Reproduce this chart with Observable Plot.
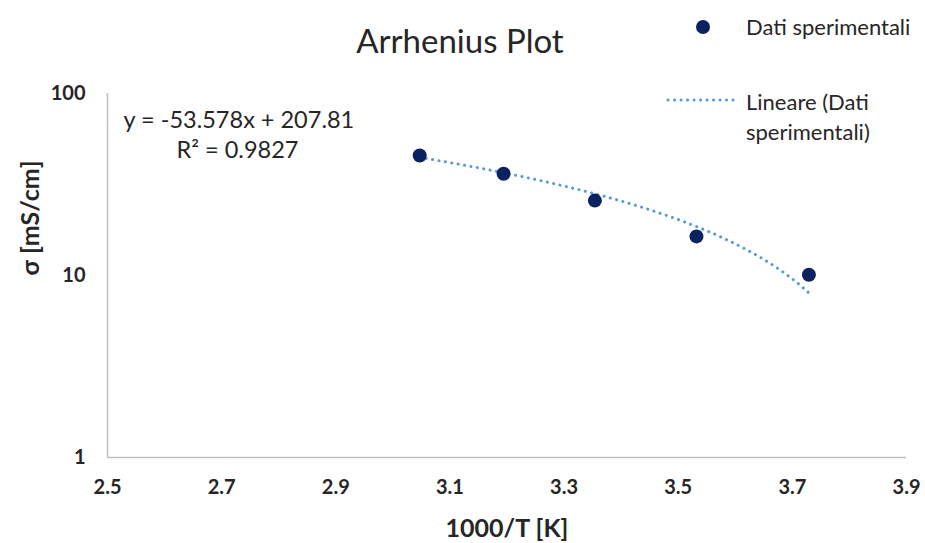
<!DOCTYPE html>
<html>
<head>
<meta charset="utf-8">
<script src="https://cdn.jsdelivr.net/npm/d3@7"></script>
<script src="https://cdn.jsdelivr.net/npm/@observablehq/plot@0.6"></script>
<style>
  html, body { margin: 0; padding: 0; background: #fff; }
  #wrap { position: relative; width: 925px; height: 543px; font-family: Lato, "Open Sans", sans-serif; color: #262626; }
  #chart { position: absolute; left: 0; top: 0; }
  .abs { position: absolute; white-space: nowrap; }
</style>
</head>
<body>
<div id="wrap">
  <div id="chart"></div>
  <div class="abs" id="title" style="left:0; width:920px; top:20px; line-height:40px; text-align:center; font-size:33px; color:#262626;">Arrhenius Plot</div>
  <div class="abs" style="left:695px; top:19px;"><svg width="18" height="18"><circle cx="8" cy="8" r="7" fill="#0b2160"/></svg></div>
  <div class="abs" style="left:746px; top:12px; font-size:22px; line-height:30px;">Dati sperimentali</div>
  <div class="abs" style="left:666px; top:92px;"><svg width="70" height="16"><line x1="2" y1="8" x2="68" y2="8" stroke="#5b9bd5" stroke-width="3" stroke-linecap="round" stroke-dasharray="0.1 6.4"/></svg></div>
  <div class="abs" style="left:746px; top:87px; font-size:22px; line-height:30px;">Lineare (Dati<br>sperimentali)</div>
</div>
<script>
// Experimental data
const invT = [3.047, 3.194, 3.354, 3.532, 3.729];   // 1000/T [K]
const sigma = [45.6, 36.2, 25.8, 16.4, 10.1];       // σ [mS/cm]

// Trendline (Excel "Lineare") coefficients as shown in the chart
const slope = -53.578;
const intercept = 207.81;
const r2 = 0.9827;

const xTicks = [2.5, 2.7, 2.9, 3.1, 3.3, 3.5, 3.7, 3.9];
const yTicks = [1, 10, 100];

const points = invT.map((x, i) => ({x, y: sigma[i]}));
const x0 = d3.min(invT), x1 = d3.max(invT);
const trend = d3.range(0, 101).map(k => {
  const x = x0 + (x1 - x0) * k / 100;
  return {x, y: slope * x + intercept};
});

const chart = Plot.plot({
  width: 925,
  height: 543,
  marginLeft: 107,
  marginRight: 19,
  marginTop: 93,
  marginBottom: 86,
  style: {fontFamily: "Lato, 'Open Sans', sans-serif", fontSize: "20px", color: "#262626", background: "transparent"},
  x: {domain: [2.5, 3.9], ticks: xTicks, tickFormat: d3.format(".1f"), label: null},
  y: {type: "log", domain: [1, 100], ticks: yTicks, tickFormat: d => String(d), label: null},
  marks: [
    Plot.ruleY([1], {stroke: "#bfbfbf", strokeWidth: 1.5}),
    Plot.ruleX([2.5], {stroke: "#bfbfbf", strokeWidth: 1.5}),
    Plot.axisX({ticks: xTicks, tickSize: 0, tickPadding: 22, fontWeight: "bold", fontSize: 20, tickFormat: d3.format(".1f"), label: null}),
    Plot.axisY({ticks: yTicks, tickSize: 0, tickPadding: 22, fontWeight: "bold", fontSize: 20, tickFormat: d => String(d), label: null}),
    Plot.line(trend, {x: "x", y: "y", stroke: "#5b9bd5", strokeWidth: 3, strokeLinecap: "round", strokeDasharray: "0.1 6.4"}),
    Plot.dot(points, {x: "x", y: "y", r: 7, fill: "#0b2160", stroke: "none"}),
    Plot.text([`y = ${slope}x + ${intercept}`], {frameAnchor: "top-left", dx: 16, dy: 27, lineAnchor: "middle", fontSize: 23.5, fill: "#262626", textAnchor: "start"}),
    Plot.text([`R² = ${r2}`], {frameAnchor: "top-left", dx: 69, dy: 57, lineAnchor: "middle", fontSize: 23.5, fill: "#262626", textAnchor: "start"}),
    Plot.text(["1000/T [K]"], {frameAnchor: "bottom", dy: 71, lineAnchor: "middle", fontSize: 25, fontWeight: "bold", fill: "#262626"}),
    Plot.text(["σ [mS/cm]"], {frameAnchor: "left", dx: -77, lineAnchor: "middle", rotate: -90, fontSize: 25, fontWeight: "bold", fill: "#262626"})
  ]
});
document.getElementById("chart").appendChild(chart);
</script>
</body>
</html>
